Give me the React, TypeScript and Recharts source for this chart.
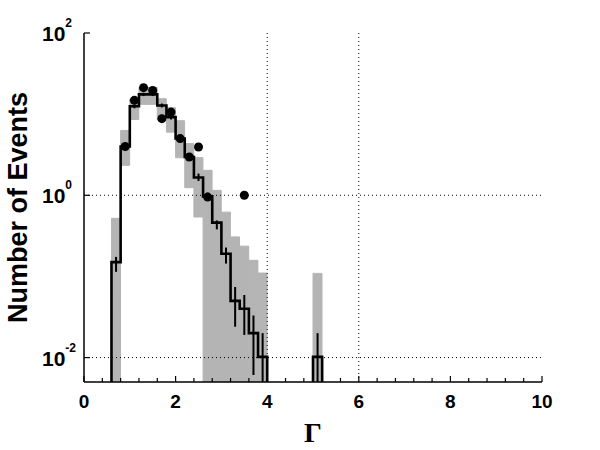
import React from 'react';
import {
  ComposedChart, Bar, Line, Scatter, ErrorBar,
  XAxis, YAxis, ReferenceLine,
} from 'recharts';

// histogram bins of Γ, width 0.2, given by their centres
const binCentres = [0.7, 0.9, 1.1, 1.3, 1.5, 1.7, 1.9, 2.1, 2.3, 2.5, 2.7, 2.9, 3.1, 3.3, 3.5, 3.7, 3.9, 5.1];
const BIN_WIDTH = 0.2;

// expected number of events (black step line)
const expected = [0.15, 4.0, 12.5, 17.5, 17.5, 12.8, 9.2, 5.0, 2.96, 1.66, 0.97, 0.46, 0.19, 0.05, 0.04, 0.02, 0.0102, 0.0102];
// statistical error on the expectation
const errLow = [0.114, 3.7, 11.8, 16.7, 16.7, 12.1, 8.6, 4.6, 2.7, 1.5, 0.86, 0.38, 0.144, 0.024, 0.019, 0.0061, 0.005, 0.005];
const errHigh = [0.174, 4.3, 13.2, 18.3, 18.3, 13.5, 9.8, 5.4, 3.2, 1.85, 1.08, 0.49, 0.227, 0.074, 0.059, 0.033, 0.02, 0.02];
// grey systematic band
const bandLow = [0.005, 2.34, 8.6, 13.2, 13.2, 8.6, 6.0, 2.9, 1.24, 0.54, 0.005, 0.005, 0.005, 0.005, 0.005, 0.005, 0.005, 0.005];
const bandHigh = [0.52, 6.3, 15.3, 21.3, 21.3, 15.5, 12.0, 8.3, 4.33, 2.91, 2.03, 1.15, 0.62, 0.307, 0.236, 0.158, 0.11, 0.109];

// observed events (dots)
const obsGamma = [0.9, 1.1, 1.3, 1.5, 1.7, 1.9, 2.1, 2.3, 2.5, 2.7, 3.5];
const obsCount = [4.0, 14.8, 21.2, 19.6, 8.8, 10.6, 5.0, 2.96, 3.94, 0.95, 1.0];

const xTicks = [0, 0.4, 0.8, 1.2, 1.6, 2, 2.4, 2.8, 3.2, 3.6, 4, 4.4, 4.8, 5.2, 5.6, 6, 6.4, 6.8, 7.2, 7.6, 8, 8.4, 8.8, 9.2, 9.6, 10];
const xLabels = [0, 2, 4, 6, 8, 10];
const yTicks = [0.01, 1, 100];
const yExponents = ['-2', '0', '2'];
const xGrid = [4, 6];
const yGrid = [0.01, 1];
const Y_MIN = 0.005;
const Y_MAX = 100;

const SANS = '"Liberation Sans", Arial, Helvetica, sans-serif';
const GREY = '#b4b4b4';

const binRows = binCentres.map((x, i) => ({ x, band: [bandLow[i], bandHigh[i]] }));
const errRows = binCentres.map((x, i) => ({
  x, y: expected[i], err: [expected[i] - errLow[i], errHigh[i] - expected[i]],
}));
const obsRows = obsGamma.map((x, i) => ({ x, y: obsCount[i] }));

// step outline from bin edges, dropping to the axis floor at the ends of each run
const stepRows: { x: number; y: number | null }[] = [];
binCentres.forEach((c, i) => {
  const lo = c - BIN_WIDTH / 2;
  const hi = c + BIN_WIDTH / 2;
  const next = binCentres[i + 1];
  const startsRun = i === 0 || Math.abs(binCentres[i - 1] + BIN_WIDTH - c) > 1e-6;
  const endsRun = next === undefined || Math.abs(c + BIN_WIDTH - next) > 1e-6;
  if (startsRun) stepRows.push({ x: lo, y: Y_MIN });
  stepRows.push({ x: lo, y: expected[i] });
  if (endsRun) {
    stepRows.push({ x: hi, y: Y_MIN });
    if (next !== undefined) stepRows.push({ x: (hi + next) / 2, y: null });
  }
});

function BottomTick({ x, y, payload }: any) {
  const major = xLabels.includes(payload.value);
  return (
    <g>
      <line x1={x} y1={y} x2={x} y2={y - (major ? 6 : 4)} stroke="#000" strokeWidth={1.2} />
      {major && (
        <text x={x} y={y + 26} textAnchor="middle" fontFamily={SANS} fontWeight="bold" fontSize={19} fill="#000">
          {payload.value}
        </text>
      )}
    </g>
  );
}

function TopTick({ x, y, payload }: any) {
  const major = xLabels.includes(payload.value);
  return <line x1={x} y1={y} x2={x} y2={y + (major ? 6 : 4)} stroke="#000" strokeWidth={1.2} />;
}

function LeftTick({ x, y, index }: any) {
  return (
    <g>
      <line x1={x} y1={y} x2={x + 6} y2={y} stroke="#000" strokeWidth={1.2} />
      <text x={x - 42} y={y + 8} fontFamily={SANS} fontWeight="bold" fontSize={21} fill="#000">
        10
        <tspan dy={-14} fontSize={12}>{yExponents[index] ?? ''}</tspan>
      </text>
    </g>
  );
}

function RightTick({ x, y }: any) {
  return <line x1={x} y1={y} x2={x - 6} y2={y} stroke="#000" strokeWidth={1.2} />;
}

function YTitle(props: any) {
  const vb = props.viewBox ?? { x: 0, y: 33, width: 84, height: 349 };
  const cx = vb.x + 18;
  const cy = vb.y + vb.height / 2;
  return (
    <text
      x={cx} y={cy} transform={`rotate(-90 ${cx} ${cy})`}
      textAnchor="middle" dominantBaseline="central"
      fontFamily={SANS} fontWeight="bold" fontSize={27} fill="#000"
    >
      Number of Events
    </text>
  );
}

function XTitle(props: any) {
  const vb = props.viewBox ?? { x: 84, y: 382, width: 458, height: 68 };
  return (
    <text
      x={vb.x + vb.width / 2} y={vb.y + 60} textAnchor="middle"
      fontFamily='"Liberation Serif", "Times New Roman", serif' fontWeight="bold" fontSize={28} fill="#000"
    >
      Γ
    </text>
  );
}

const axisLine = { stroke: '#000', strokeWidth: 1.5 };

export default function App() {
  return (
    <div style={{ position: 'absolute', left: 0, top: 0, width: 600, height: 450, background: '#fff' }}>
      <ComposedChart
        width={600} height={450} data={binRows}
        margin={{ top: 33, right: 58, bottom: 0, left: 0 }}
        barCategoryGap={0} barGap={0}
      >
        <XAxis
          dataKey="x" type="number" domain={[0, 10]} ticks={xTicks} interval={0}
          height={68} tickSize={0} tickMargin={0} tickLine={false} axisLine={axisLine}
          tick={(p: any) => <BottomTick {...p} />}
          label={{ content: (p: any) => <XTitle {...p} /> }}
        />
        {/* hidden axis carrying only the bins, so bar width = bin width */}
        <XAxis xAxisId="bins" dataKey="x" type="number" domain={[0, 10]} hide />
        <XAxis
          xAxisId="top" orientation="top" dataKey="x" type="number" domain={[0, 10]}
          ticks={xTicks} interval={0} height={0} tickSize={0} tickMargin={0}
          tickLine={false} axisLine={axisLine}
          tick={(p: any) => <TopTick {...p} />}
        />
        <YAxis
          scale="log" type="number" domain={[Y_MIN, Y_MAX]} allowDataOverflow
          ticks={yTicks} interval={0} width={84} tickSize={0} tickMargin={0}
          tickLine={false} axisLine={axisLine}
          tick={(p: any) => <LeftTick {...p} />}
          label={{ content: (p: any) => <YTitle {...p} /> }}
        />
        <YAxis
          yAxisId="right" orientation="right" scale="log" type="number" domain={[Y_MIN, Y_MAX]}
          allowDataOverflow ticks={yTicks} interval={0} width={0} tickSize={0} tickMargin={0}
          tickLine={false} axisLine={axisLine}
          tick={(p: any) => <RightTick {...p} />}
        />
        {xGrid.map(v => (
          <ReferenceLine key={`gx${v}`} x={v} stroke="#000" strokeWidth={1} strokeDasharray="1 3" />
        ))}
        {yGrid.map(v => (
          <ReferenceLine key={`gy${v}`} y={v} stroke="#000" strokeWidth={1} strokeDasharray="1 3" />
        ))}
        <Bar
          xAxisId="bins" dataKey="band" fill={GREY} stroke={GREY} strokeWidth={1}
          isAnimationActive={false}
        />
        <Line
          data={stepRows} dataKey="y" type="stepAfter" stroke="#000" strokeWidth={2.6}
          dot={false} activeDot={false} connectNulls={false} isAnimationActive={false}
        />
        <Scatter data={errRows} dataKey="y" shape={() => <g />} isAnimationActive={false}>
          <ErrorBar dataKey="err" direction="y" width={0} stroke="#000" strokeWidth={2} />
        </Scatter>
        <Scatter data={obsRows} dataKey="y" fill="#000" isAnimationActive={false} />
      </ComposedChart>
    </div>
  );
}
